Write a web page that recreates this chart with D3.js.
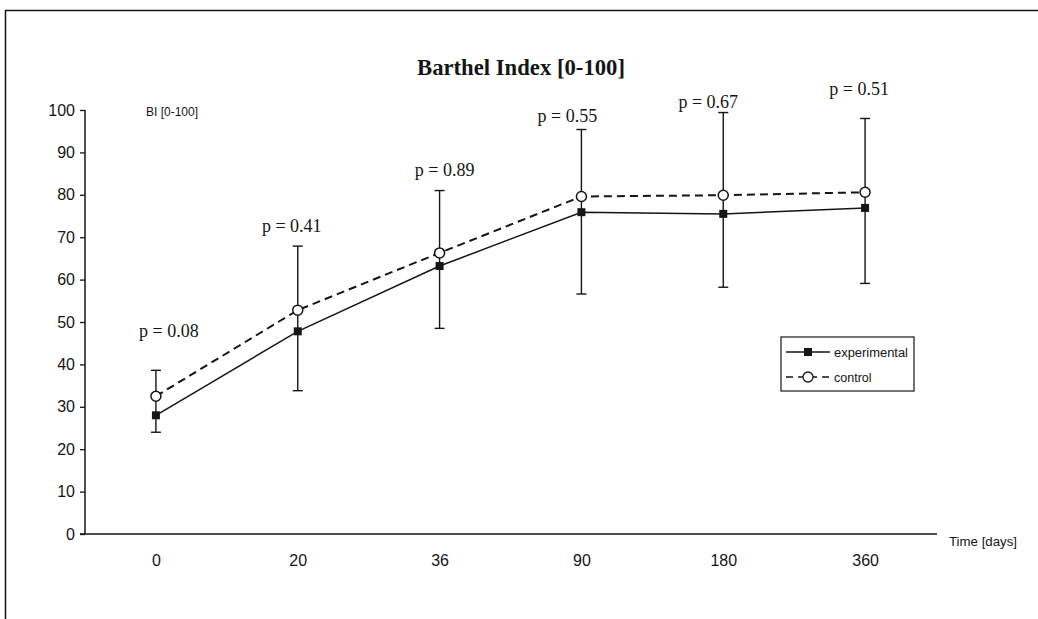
<!DOCTYPE html>
<html>
<head>
<meta charset="utf-8">
<script src="https://cdn.jsdelivr.net/npm/d3@7"></script>
<style>
  body { margin: 0; background: #fff; }
</style>
</head>
<body>
<div id="vis"></div>
<script>
// data
let days = ["0", "20", "36", "90", "180", "360"];
let experimental = [28, 47.8, 63.2, 75.9, 75.5, 76.9];
let control = [32.5, 52.8, 66.3, 79.6, 79.9, 80.6];
let errTop = [38.6, 67.9, 81, 95.4, 99.4, 98];
let errBottom = [24, 33.8, 48.5, 56.6, 58.2, 59.1];
let pValues = ["0.08", "0.41", "0.89", "0.55", "0.67", "0.51"];
let yTicks = [0, 10, 20, 30, 40, 50, 60, 70, 80, 90, 100];

// where the p labels sit (baseline in data units, x shift in px)
let pLabelY = [46.5, 71.2, 84.4, 97.2, 100.5, 103.5];
let pLabelDx = [13, -6, 5, -14, -15, -6];

let W = 1038, H = 619;
let svg = d3.select("#vis").append("svg")
  .attr("width", W).attr("height", H)
  .style("background-color", "white");

let ink = "#151515";
let sans = "'Liberation Sans', Arial, sans-serif";
let serif = "'Liberation Serif', 'Times New Roman', serif";

// outer frame (only top and left visible)
svg.append("rect")
  .attr("x", 5.5).attr("y", 10.5)
  .attr("width", 1100).attr("height", 700)
  .attr("fill", "none").attr("stroke", ink).attr("stroke-width", 1.5);

let x = d3.scalePoint().domain(days).range([85, 936]).padding(0.5);
let y = d3.scaleLinear().domain([0, 100]).range([534, 110]);

// y axis
let yAxis = svg.append("g")
  .attr("transform", "translate(85,0)")
  .call(d3.axisLeft(y).tickValues(yTicks).tickSize(5).tickPadding(5));
yAxis.select(".domain").attr("stroke", ink).attr("stroke-width", 1.5).attr("d", "M0," + y(100) + "V" + y(0));
yAxis.selectAll(".tick line").attr("stroke", ink).attr("stroke-width", 1.3);
yAxis.selectAll(".tick text")
  .attr("fill", ink)
  .style("font-family", sans)
  .style("font-size", "16px");

// x axis (no ticks)
let xAxis = svg.append("g")
  .attr("transform", "translate(0," + y(0) + ")")
  .call(d3.axisBottom(x).tickSize(0).tickPadding(21));
xAxis.select(".domain").attr("stroke", ink).attr("stroke-width", 1.5).attr("d", "M80,0H937");
xAxis.selectAll(".tick text")
  .attr("fill", ink)
  .style("font-family", sans)
  .style("font-size", "16px");

svg.append("text")
  .attr("x", 949).attr("y", 546)
  .style("font-family", sans)
  .style("font-size", "13px")
  .attr("fill", ink)
  .attr("textLength", 68)
  .attr("lengthAdjust", "spacingAndGlyphs")
  .text("Time [days]");

svg.append("text")
  .attr("x", 146).attr("y", 116)
  .style("font-family", sans)
  .style("font-size", "12px")
  .attr("fill", ink)
  .text("BI [0-100]");

// title
svg.append("text")
  .attr("x", 521).attr("y", 75)
  .attr("text-anchor", "middle")
  .style("font-family", serif)
  .style("font-weight", "bold")
  .style("font-size", "24px")
  .attr("fill", ink)
  .attr("textLength", 208)
  .attr("lengthAdjust", "spacingAndGlyphs")
  .text("Barthel Index [0-100]");

// error bars
let eb = svg.append("g").attr("stroke", ink).attr("stroke-width", 1.4);
eb.selectAll("line.whisker")
  .data(days)
  .join("line")
  .attr("x1", d => x(d)).attr("x2", d => x(d))
  .attr("y1", (d, i) => y(errTop[i]))
  .attr("y2", (d, i) => y(errBottom[i]));
eb.selectAll("line.capTop")
  .data(days)
  .join("line")
  .attr("x1", d => x(d) - 5).attr("x2", d => x(d) + 5)
  .attr("y1", (d, i) => y(errTop[i]))
  .attr("y2", (d, i) => y(errTop[i]));
eb.selectAll("line.capBottom")
  .data(days)
  .join("line")
  .attr("x1", d => x(d) - 5).attr("x2", d => x(d) + 5)
  .attr("y1", (d, i) => y(errBottom[i]))
  .attr("y2", (d, i) => y(errBottom[i]));

// lines
let line = d3.line().x((d, i) => x(days[i])).y(d => y(d));
svg.append("path")
  .datum(experimental)
  .attr("d", line)
  .attr("fill", "none").attr("stroke", ink).attr("stroke-width", 1.5);
svg.append("path")
  .datum(control)
  .attr("d", line)
  .attr("fill", "none").attr("stroke", ink).attr("stroke-width", 2)
  .attr("stroke-dasharray", "8,5");

// markers
svg.selectAll("rect.exp")
  .data(experimental)
  .join("rect")
  .attr("x", (d, i) => x(days[i]) - 4)
  .attr("y", d => y(d) - 4)
  .attr("width", 8).attr("height", 8)
  .attr("fill", ink);
svg.selectAll("circle.ctl")
  .data(control)
  .join("circle")
  .attr("cx", (d, i) => x(days[i]))
  .attr("cy", d => y(d))
  .attr("r", 5)
  .attr("fill", "white").attr("stroke", ink).attr("stroke-width", 1.5);

// p labels
svg.selectAll("text.p")
  .data(pValues)
  .join("text")
  .attr("x", (d, i) => x(days[i]) + pLabelDx[i])
  .attr("y", (d, i) => y(pLabelY[i]))
  .attr("text-anchor", "middle")
  .style("font-family", serif)
  .style("font-size", "18px")
  .attr("fill", ink)
  .text(d => "p = " + d);

// legend
let leg = svg.append("g").attr("transform", "translate(781,337)");
leg.append("rect")
  .attr("width", 133).attr("height", 54)
  .attr("fill", "white").attr("stroke", ink).attr("stroke-width", 1.2);
leg.append("line").attr("x1", 5).attr("x2", 49).attr("y1", 15).attr("y2", 15)
  .attr("stroke", ink).attr("stroke-width", 1.3);
leg.append("rect").attr("x", 23).attr("y", 11).attr("width", 8).attr("height", 8).attr("fill", ink);
leg.append("line").attr("x1", 5).attr("x2", 49).attr("y1", 40).attr("y2", 40)
  .attr("stroke", ink).attr("stroke-width", 1.3).attr("stroke-dasharray", "7,5");
leg.append("circle").attr("cx", 27).attr("cy", 40).attr("r", 5)
  .attr("fill", "white").attr("stroke", ink).attr("stroke-width", 1.3);
leg.append("text").attr("x", 53).attr("y", 20)
  .style("font-family", sans)
  .style("font-size", "12.5px").attr("fill", ink)
  .attr("textLength", 74)
  .attr("lengthAdjust", "spacingAndGlyphs")
  .text("experimental");
leg.append("text").attr("x", 53).attr("y", 45)
  .style("font-family", sans)
  .style("font-size", "12.5px").attr("fill", ink)
  .text("control");
</script>
</body>
</html>
